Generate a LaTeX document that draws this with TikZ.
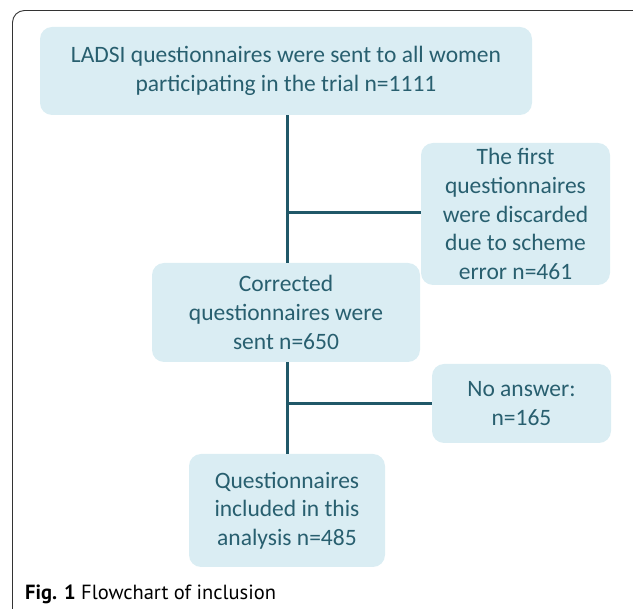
\documentclass[tikz,border=0pt]{standalone}
\usepackage{fontspec}
\setmainfont{Carlito}
\newfontfamily\capfont{PT Sans}
\usetikzlibrary{positioning}
\definecolor{boxfill}{HTML}{DAEDF3}
\definecolor{boxtext}{HTML}{285F6F}
\definecolor{linkcol}{HTML}{205868}
\tikzset{mybox/.style={rounded corners=12pt, fill=boxfill, text=boxtext, align=center, inner sep=0pt, font=\fontsize{23.5}{28.6}\selectfont}}
\tikzset{mylink/.style={draw=linkcol, line width=3pt}}
\tikzset{myframe/.style={draw=black!80, line width=0.9pt, rounded corners=12pt}}

\begin{document}
\begin{tikzpicture}[x=1pt, y=-1pt]
\useasboundingbox (0,0) rectangle (633,609);

\draw[myframe] (12.5,640) -- (12.5,10.5) -- (660,10.5);

\node[mybox, minimum width=492pt, minimum height=88pt] (q0) at (286,71) {LADSI questionnaires were sent to all women\\participating in the trial n=1111};
\node[mybox, minimum width=189pt, minimum height=142pt] (q1) at (515.5,214) {The first\\questionnaires\\were discarded\\due to scheme\\error n=461};
\node[mybox, minimum width=268pt, minimum height=99pt] (q2) at (286,312.5) {Corrected\\questionnaires were\\sent n=650};
\node[mybox, minimum width=179pt, minimum height=79pt] (q3) at (521.5,403.5) {No answer:\\n=165};
\node[mybox, minimum width=196pt, minimum height=113pt] (q4) at (287,510.5) {Questionnaires\\included in this\\analysis n=485};

\draw[mylink] (q0.south -| 287,0) -- (q2.north -| 287,0);
\draw[mylink] (287,213) -- (q1.west |- 0,213);
\draw[mylink] (q2.south -| 287,0) -- (q4.north -| 287,0);
\draw[mylink] (287,404) -- (q3.west |- 0,404);

\node[anchor=base west, inner sep=0pt, font=\capfont\fontsize{20.5}{24}\selectfont] (cap) at (25,600) {\textbf{Fig. 1} Flowchart of inclusion};

\end{tikzpicture}
\end{document}
